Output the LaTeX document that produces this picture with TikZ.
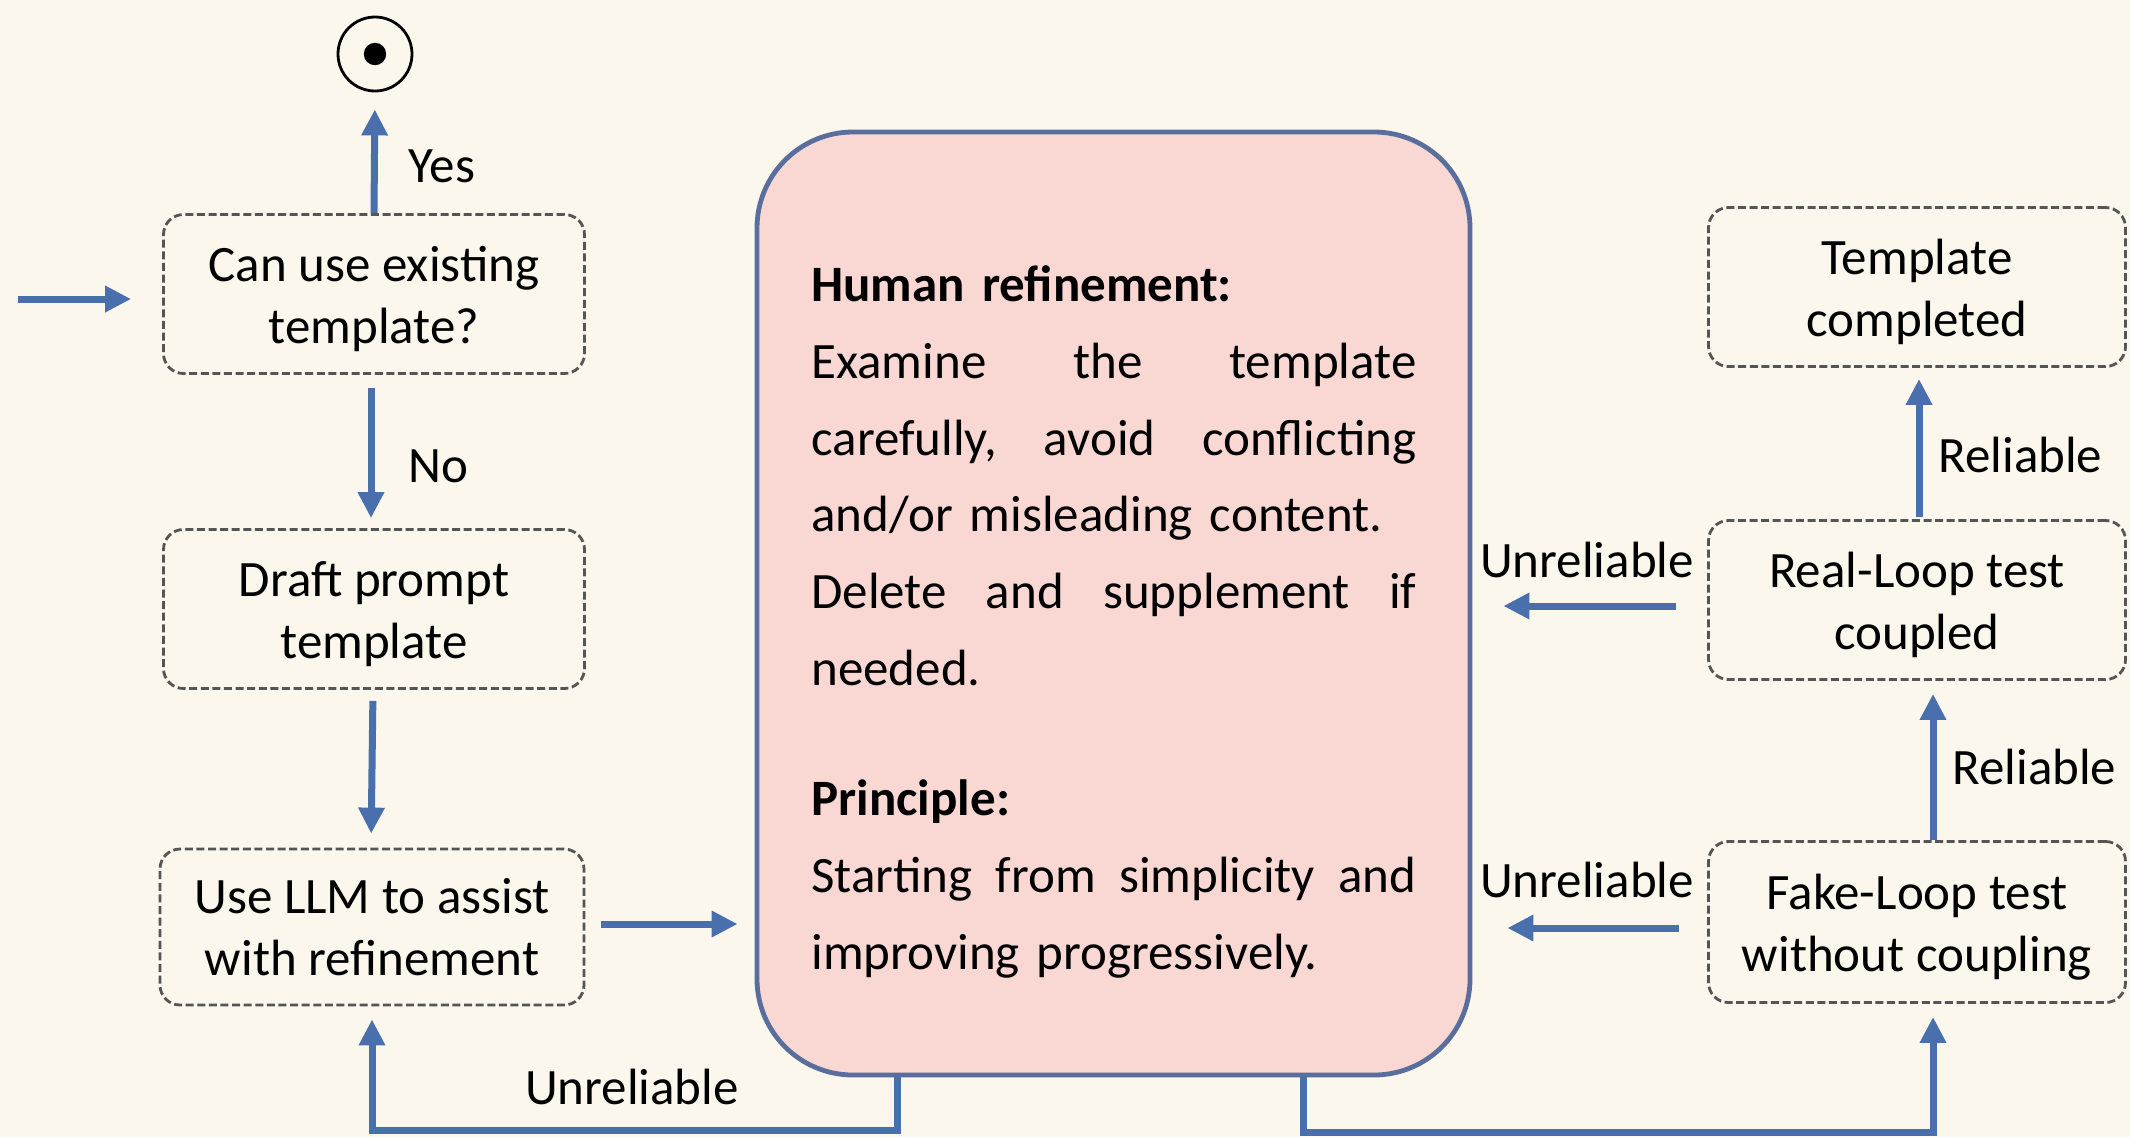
\documentclass[tikz,border=0pt]{standalone}
\usepackage{fontspec}
\setmainfont{Carlito}
\usetikzlibrary{arrows.meta,calc}

\definecolor{paper}{RGB}{251,247,236}
\definecolor{flow}{RGB}{74,111,173}
\definecolor{pinkfill}{RGB}{249,216,212}
\definecolor{pinkedge}{RGB}{90,110,158}
\definecolor{dashgray}{RGB}{85,85,85}

\newcommand\spreadline[1]{\hbox to \linewidth{#1}}
% taller first line so two-line labels sit a little lower in their boxes
\newcommand\firststrut{\rule{0pt}{23pt}}

\tikzset{
  stepbox/.style={draw=dashgray, line width=1.4pt, dash pattern=on 4pt off 1.8pt,
    rounded corners=10pt, minimum width=210.5pt, minimum height=79.5pt,
    align=center, font=\fontsize{25.5}{31}\selectfont, inner sep=0pt},
  flowarrow/.style={draw=flow, line width=3.5pt,
    -{Triangle[width=12.5pt,length=13pt]}},
  lbl/.style={font=\fontsize{25.5}{31}\selectfont, inner sep=0pt},
}

\begin{document}
\begin{tikzpicture}[x=0.5pt,y=-0.5pt]
  % page and background
  \fill[paper] (0,0) rectangle (2130,1137);
  \useasboundingbox (0,0) rectangle (2130,1137);

  % end marker
  \node[circle, draw=black, line width=1.4pt, minimum size=37pt, inner sep=0pt] (endc) at (375,54) {};
  \fill[black] (endc.center) circle (5.6pt);

  % left column of steps
  \node[stepbox] (b1) at (374,294) {\firststrut Can use existing\\template?};
  \node[stepbox] (b2) at (374,609) {\firststrut Draft prompt\\template};
  \node[stepbox, minimum width=212pt, minimum height=78pt] (b3) at (372,927) {Use LLM to assist\\with refinement};

  % central refinement panel
  \node[draw=pinkedge, fill=pinkfill, line width=2.4pt, rounded corners=48pt,
        minimum width=356.5pt, minimum height=471.5pt, inner sep=0pt] (big) at (1113.5,603.5) {};
  \node[anchor=north west, inner sep=0pt, text width=302.5pt, align=left,
        font=\fontsize{25.5}{38.4}\selectfont] (bigtext) at (811,261) {%
    \rule{0pt}{20pt}\textbf{Human refinement:}\par
    \spreadline{Examine\hfill the\hfill template}
    \spreadline{carefully,\hfill avoid\hfill conflicting}
    \hbox{and/or misleading content.}
    \spreadline{Delete\hfill and\hfill supplement\hfill if}
    \hbox{needed.}
    \vspace{26.8pt}
    \hbox{\textbf{Principle:}}
    \spreadline{Starting\hfill from\hfill simplicity\hfill and}
    \hbox{improving progressively.}};

  % right column of steps
  \node[stepbox, minimum width=208.5pt] (done) at (1917,287) {\firststrut Template\\completed};
  \node[stepbox, minimum width=208.5pt] (real) at (1917,600) {\firststrut Real-Loop test\\coupled};
  \node[stepbox, minimum width=208.5pt, minimum height=80.5pt] (fake) at (1917,922) {\firststrut Fake-Loop test\\without coupling};

  % entry point
  \coordinate (entry) at (18,299);
  \draw[flowarrow, shorten >=15.5pt] (entry) -- (entry -| b1.west);

  % left column connectors
  \draw[flowarrow, shorten >=8.5pt] (b1.north) -- (endc.south);
  \node[lbl, anchor=west] (yes) at (408,166) {Yes};
  \draw[flowarrow, shorten <=6.5pt, shorten >=5pt] ([xshift=-1.5pt]b1.south) -- ([xshift=-1.5pt]b2.north);
  \node[lbl, anchor=west] (no) at (408,466) {No};
  \draw[flowarrow, shorten <=5.5pt, shorten >=7pt] ([xshift=-0.5pt]b2.south) -- ([xshift=-0.5pt]b3.north);
  \draw[flowarrow, shorten <=8pt, shorten >=8.5pt] ([yshift=1.5pt]b3.east) -- ([yshift=1.5pt]b3.east -| big.west);

  % loops back from the refinement panel
  \draw[flowarrow, shorten >=6.5pt] ([xshift=-108.25pt]big.south) -- ++(0,-26.5pt) -| (b3.south);
  \node[lbl] (unrelA) at (632,1087) {Unreliable};
  \draw[flowarrow, shorten >=6.5pt] ([xshift=94.75pt]big.south) -- ++(0,-27.5pt) -| ([xshift=8pt]fake.south);

  % right column connectors
  \draw[flowarrow, shorten >=6.5pt] ([xshift=8pt]fake.north) -- ([xshift=8pt]real.south);
  \node[lbl, anchor=west] (relA) at (1952,767) {Reliable};
  \draw[flowarrow, shorten <=1pt, shorten >=5.5pt] ([xshift=1pt]real.north) -- ([xshift=1pt]done.south);
  \node[lbl, anchor=west] (relB) at (1938,455) {Reliable};

  \draw[flowarrow, shorten <=15.5pt, shorten >=15.5pt] ([yshift=-3pt]real.west) -- ([yshift=-3pt]real.west -| big.east);
  \node[lbl] (unrelB) at (1587,560) {Unreliable};
  \draw[flowarrow, shorten <=14pt, shorten >=17.5pt] ([yshift=-3pt]fake.west) -- ([yshift=-3pt]fake.west -| big.east);
  \node[lbl] (unrelC) at (1587,880) {Unreliable};
\end{tikzpicture}
\end{document}
